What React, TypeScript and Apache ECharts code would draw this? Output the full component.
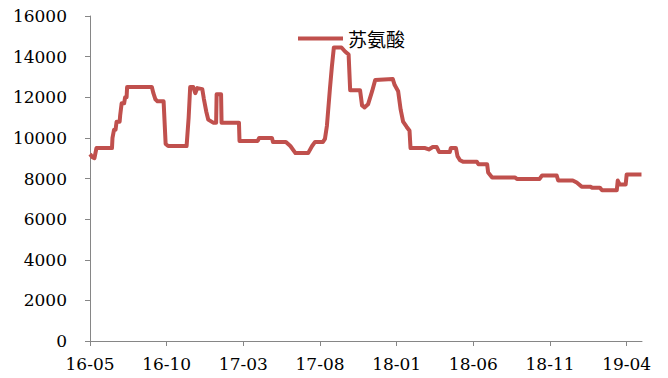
import React, { useEffect, useRef } from "react";
import * as echarts from "echarts";

const seriesName = "苏氨酸";
const xTickLabels = ["16-05", "16-10", "17-03", "17-08", "18-01", "18-06", "18-11", "19-04"];
const startYear = 2016;
const startMonth = 5;
const monthsSpan = 36;
const yMax = 16000;
const yStep = 2000;

const dates = [
  "2016-05-01", "2016-05-06", "2016-05-10", "2016-05-14", "2016-06-14", "2016-06-15", "2016-06-18", "2016-06-21",
  "2016-06-23", "2016-06-29", "2016-06-30", "2016-07-03", "2016-07-08", "2016-07-10", "2016-07-13", "2016-07-14",
  "2016-09-02", "2016-09-05", "2016-09-09", "2016-09-13", "2016-09-25", "2016-09-29", "2016-10-04", "2016-11-10",
  "2016-11-14", "2016-11-17", "2016-11-23", "2016-11-27", "2016-12-01", "2016-12-11", "2016-12-14", "2016-12-19",
  "2016-12-23", "2017-01-02", "2017-01-08", "2017-01-09", "2017-01-18", "2017-01-19", "2017-02-21", "2017-02-22",
  "2017-03-30", "2017-04-02", "2017-04-27", "2017-04-29", "2017-05-25", "2017-06-03", "2017-06-13", "2017-07-08",
  "2017-07-16", "2017-07-22", "2017-08-07", "2017-08-11", "2017-08-15", "2017-08-21", "2017-08-25", "2017-08-29",
  "2017-09-13", "2017-09-20", "2017-09-27", "2017-09-30", "2017-10-20", "2017-10-24", "2017-10-29", "2017-11-05",
  "2017-11-13", "2017-11-19", "2017-12-24", "2017-12-28", "2018-01-04", "2018-01-09", "2018-01-14", "2018-01-21",
  "2018-01-27", "2018-01-29", "2018-02-25", "2018-03-04", "2018-03-12", "2018-03-20", "2018-03-25", "2018-04-15",
  "2018-04-17", "2018-04-27", "2018-04-30", "2018-05-05", "2018-05-12", "2018-06-08", "2018-06-11", "2018-06-28",
  "2018-06-30", "2018-07-08", "2018-08-23", "2018-08-27", "2018-10-11", "2018-10-16", "2018-11-14", "2018-11-17",
  "2018-12-16", "2018-12-24", "2019-01-03", "2019-01-20", "2019-01-24", "2019-02-08", "2019-02-12", "2019-03-12",
  "2019-03-14", "2019-03-18", "2019-03-30", "2019-04-01", "2019-04-30",
];

const prices = [
  9200, 9050, 9000, 9500, 9500, 10000, 10400, 10400,
  10800, 10800, 11100, 11700, 11700, 12000, 12000, 12500,
  12500, 12200, 11900, 11800, 11800, 9700, 9600, 9600,
  11000, 12500, 12500, 12200, 12450, 12400, 11950, 11300,
  10900, 10750, 10750, 12150, 12150, 10750, 10750, 9850,
  9850, 10000, 10000, 9800, 9800, 9600, 9250, 9250,
  9600, 9800, 9800, 9950, 10600, 12400, 13500, 14450,
  14450, 14250, 14100, 12350, 12350, 11600, 11500, 11650,
  12300, 12850, 12900, 12600, 12300, 11400, 10800, 10550,
  10350, 9500, 9500, 9430, 9550, 9550, 9300, 9300,
  9500, 9500, 9100, 8900, 8820, 8820, 8700, 8700,
  8300, 8050, 8050, 7980, 7980, 8150, 8150, 7900,
  7900, 7800, 7600, 7600, 7550, 7550, 7420, 7420,
  7900, 7700, 7700, 8200, 8200,
];

function monthOffset(d: string): number {
  const [y, m, day] = d.split("-").map(Number);
  const dim = new Date(y, m, 0).getDate();
  return (y - startYear) * 12 + (m - startMonth) + (day - 1) / dim;
}

function offsetLabel(v: number): string {
  const total = startMonth - 1 + Math.round(v);
  const y = startYear + Math.floor(total / 12);
  const m = (total % 12) + 1;
  return String(y % 100).padStart(2, "0") + "-" + String(m).padStart(2, "0");
}

export default function App() {
  const ref = useRef<HTMLDivElement>(null);
  useEffect(() => {
    document.body.style.margin = "0";
    if (!ref.current) return;
    const chart = echarts.init(ref.current, undefined, { renderer: "svg" });
    const tickValues = xTickLabels.map((_, i) => i * 5);
    const axisColor = "#868686";
    const fontFamily = "DejaVu Serif";
    chart.setOption({
      animation: false,
      backgroundColor: "#ffffff",
      textStyle: { fontFamily },
      grid: { left: 90, right: 26, top: 16, bottom: 37 },
      legend: {
        data: [seriesName],
        left: 293,
        top: 24,
        icon: "rect",
        itemWidth: 45,
        itemHeight: 4,
        itemGap: 6,
        textStyle: { fontSize: 19, color: "#000", fontFamily: "Noto Sans CJK SC" },
      },
      xAxis: {
        type: "value",
        min: 0,
        max: monthsSpan,
        interval: 5,
        splitLine: { show: false },
        axisLine: { lineStyle: { color: axisColor, width: 1 } },
        axisTick: { show: true, length: 5, lineStyle: { color: axisColor }, customValues: tickValues },
        axisLabel: {
          customValues: tickValues,
          formatter: (v: number) => offsetLabel(v),
          color: "#000",
          fontSize: 17,
          fontFamily,
          margin: 14,
        },
      },
      yAxis: {
        type: "value",
        min: 0,
        max: yMax,
        interval: yStep,
        splitLine: { show: false },
        axisLine: { show: true, lineStyle: { color: axisColor, width: 1 } },
        axisTick: { show: true, length: 5, lineStyle: { color: axisColor } },
        axisLabel: {
          color: "#000",
          fontSize: 17,
          fontFamily,
          margin: 23,
          formatter: (v: number) => String(v),
        },
      },
      series: [
        {
          name: seriesName,
          type: "line",
          data: dates.map((d, i) => [monthOffset(d), prices[i]]),
          showSymbol: false,
          symbol: "none",
          lineStyle: { color: "#C0504D", width: 4, join: "round" },
          itemStyle: { color: "#C0504D" },
        },
      ],
    });
    return () => chart.dispose();
  }, []);
  return <div ref={ref} style={{ width: 668, height: 378 }} />;
}
